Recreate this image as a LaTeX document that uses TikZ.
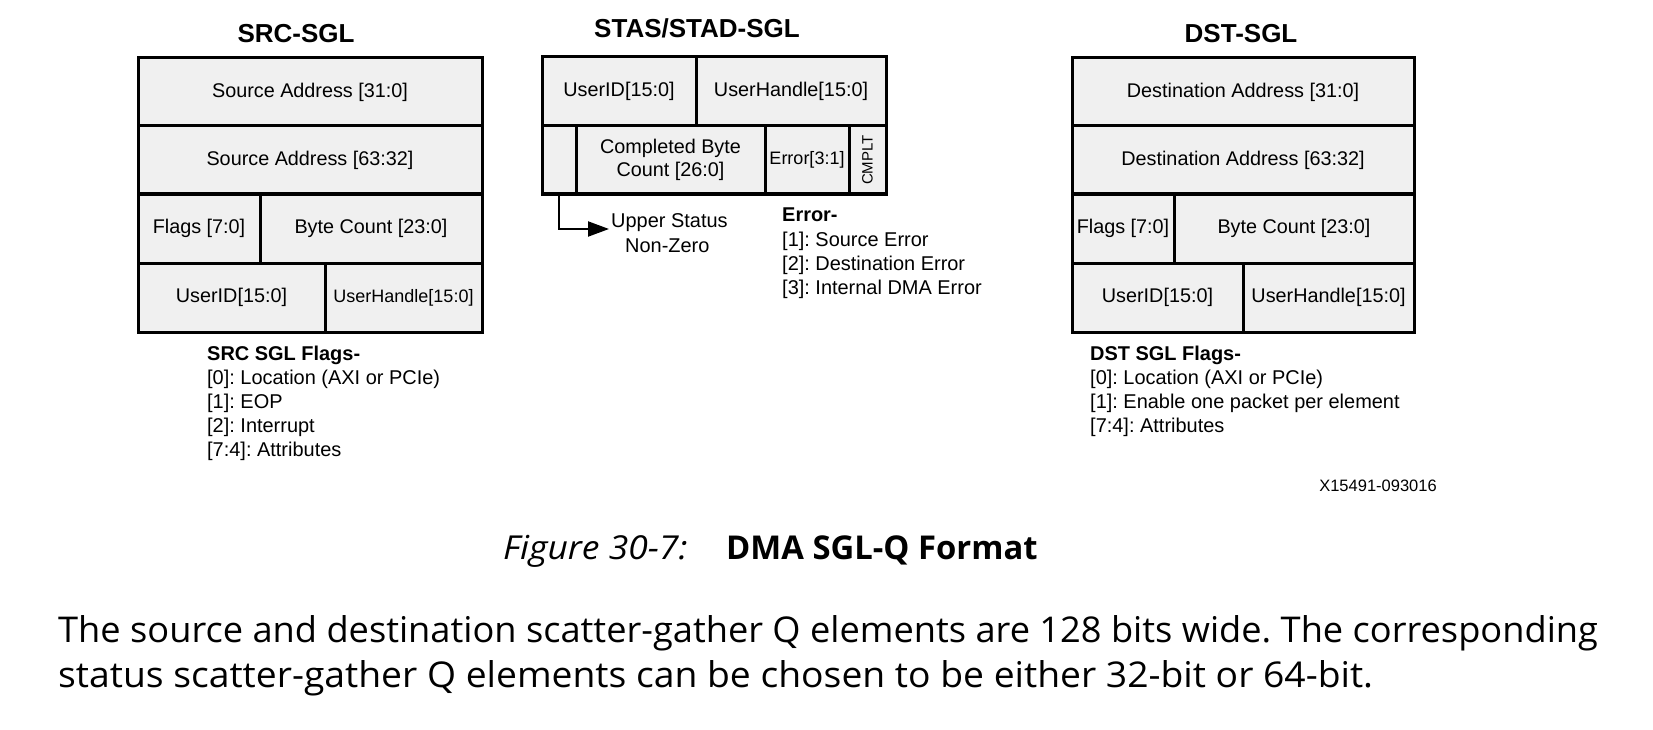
\documentclass[tikz,border=0pt]{standalone}
\usepackage{fontspec}
\setmainfont{Liberation Sans}
\newfontfamily\bodyfont{Open Sans}
\usetikzlibrary{arrows.meta}
\definecolor{cellgray}{RGB}{240,240,240}
\AtBeginDocument{\frenchspacing}
\begin{document}
\begin{tikzpicture}[x=1pt,y=-1pt,
  cell/.style={draw=black, line width=3pt, fill=cellgray, rectangle, inner sep=0pt, outer sep=0pt,
               anchor=north west, font=\fontsize{19.8}{23}\selectfont, align=center},
  sgltitle/.style={font=\fontsize{26}{30}\selectfont\bfseries, anchor=base, inner sep=0pt},
  note/.style={font=\fontsize{19.95}{24}\selectfont, anchor=base west, inner sep=0pt},
  notehead/.style={note, font=\fontsize{19.95}{24}\selectfont\bfseries},
  bodytext/.style={font=\bodyfont\fontsize{35.5}{44}\selectfont, anchor=base west, inner sep=0pt},
  flow/.style={line width=2pt, -{Triangle[length=21pt,width=15pt]}}
]
\useasboundingbox[fill=white] (0,0) rectangle (1653,730);

% ---------- SRC-SGL ----------
\node[sgltitle] (srctitle) at (296,43) {SRC-SGL};
\node[cell, minimum width=344pt, minimum height=68pt] (s1) at (138,58) {Source Address [31:0]};
\node[cell, minimum width=344pt, minimum height=68pt] (s2) at (138,126) {Source Address [63:32]};
\node[cell, minimum width=122pt, minimum height=69pt] (s3) at (138,194) {Flags [7:0]};
\node[cell, minimum width=222pt, minimum height=69pt] (s4) at (260,194) {Byte Count [23:0]};
\node[cell, minimum width=187pt, minimum height=69pt] (s5) at (138,263) {UserID[15:0]};
\node[cell, minimum width=157pt, minimum height=69pt, font=\fontsize{18}{21}\selectfont] (s6) at (325,263) {\raisebox{-5pt}{UserHandle[15:0]}};

\node[notehead] (sf0) at (207,360) {SRC SGL Flags-};
\node[note] (sf1) at (207,384) {[0]: Location (AXI or PCIe)};
\node[note] (sf2) at (207,408) {[1]: EOP};
\node[note] (sf3) at (207,432) {[2]: Interrupt};
\node[note] (sf4) at (207,456) {[7:4]: Attributes};

% ---------- STAS/STAD-SGL ----------
\node[sgltitle] (sttitle) at (697,38) {STAS/STAD-SGL};
\node[cell, minimum width=154pt, minimum height=69pt] (t1) at (542,57) {UserID[15:0]};
\node[cell, minimum width=190pt, minimum height=69pt] (t2) at (696,57) {UserHandle[15:0]};
\node[cell, minimum width=34pt, minimum height=68pt] (t3) at (542,126) {};
\node[cell, minimum width=189pt, minimum height=68pt] (t4) at (576,126) {Completed Byte\\Count [26:0]};
\node[cell, minimum width=84pt, minimum height=68pt, font=\fontsize{18}{21}\selectfont] (t5) at (765,126) {Error[3:1]};
\node[cell, minimum width=37pt, minimum height=68pt] (t6) at (849,126) {};
\node[rotate=90, inner sep=0pt, font=\fontsize{15}{18}\selectfont] (cmplt) at (t6.center) {CMPLT};

\node[note] (up1) at (611,227) {Upper Status};
\node[note] (up2) at (625,252) {Non-Zero};
\coordinate (uptip) at (609,229);
\draw[flow] (t3.south) |- (uptip);

\node[notehead] (e0) at (782,222) {Error-};
\node[note] (e1) at (782,246) {[1]: Source Error};
\node[note] (e2) at (782,270) {[2]: Destination Error};
\node[note] (e3) at (782,294) {[3]: Internal DMA Error};

% ---------- DST-SGL ----------
\node[sgltitle] (dsttitle) at (1241,43) {DST-SGL};
\node[cell, minimum width=342pt, minimum height=68pt] (d1) at (1072,58) {Destination Address [31:0]};
\node[cell, minimum width=342pt, minimum height=68pt] (d2) at (1072,126) {Destination Address [63:32]};
\node[cell, minimum width=102pt, minimum height=69pt] (d3) at (1072,194) {Flags [7:0]};
\node[cell, minimum width=240pt, minimum height=69pt] (d4) at (1174,194) {Byte Count [23:0]};
\node[cell, minimum width=171pt, minimum height=69pt] (d5) at (1072,263) {UserID[15:0]};
\node[cell, minimum width=171pt, minimum height=69pt] (d6) at (1243,263) {UserHandle[15:0]};

\node[notehead] (df0) at (1090,360) {DST SGL Flags-};
\node[note] (df1) at (1090,384) {[0]: Location (AXI or PCIe)};
\node[note] (df2) at (1090,408) {[1]: Enable one packet per element};
\node[note] (df3) at (1090,432) {[7:4]: Attributes};

\node[anchor=base, inner sep=0pt, font=\fontsize{16.5}{19}\selectfont] (xref) at (1378,491) {X15491-093016};

% ---------- caption and body ----------
\node[anchor=base west, inner sep=0pt, font=\bodyfont\fontsize{33}{38}\selectfont\itshape] (figno) at (503,559) {\scalebox{1.075}[1]{Figure 30-7:}};
\node[anchor=base west, inner sep=0pt, font=\bodyfont\fontsize{32.8}{38}\selectfont\bfseries] (figname) at (726,559) {DMA SGL-Q Format};

\node[bodytext] (body1) at (58,642) {\scalebox{1.02}[1]{The source and destination scatter-gather Q elements are 128 bits wide. The corresponding}};
\node[bodytext] (body2) at (58,687) {\scalebox{1.05}[1]{status scatter-gather Q elements can be chosen to be either 32-bit or 64-bit.}};
\end{tikzpicture}
\end{document}
